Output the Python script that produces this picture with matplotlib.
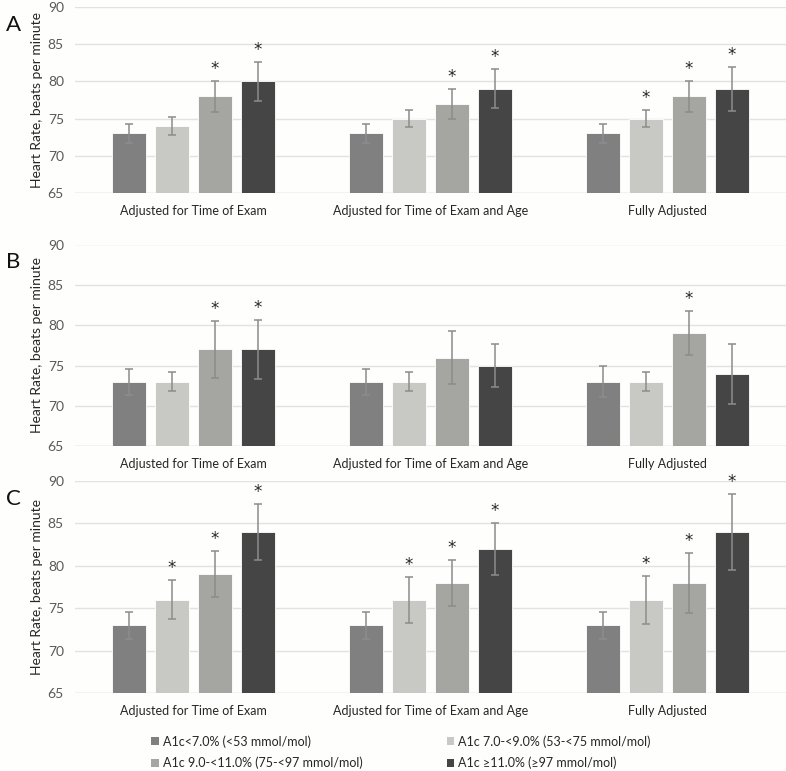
import numpy as np
import matplotlib.pyplot as plt
from matplotlib.patches import Patch

plt.rcParams['font.family'] = ['Lato', 'DejaVu Sans']

# categories and series
groups = ['Adjusted for Time of Exam', 'Adjusted for Time of Exam and Age', 'Fully Adjusted']
series = ['A1c<7.0% (<53 mmol/mol)', 'A1c 7.0-<9.0% (53-<75 mmol/mol)',
          'A1c 9.0-<11.0% (75-<97 mmol/mol)', 'A1c \u226511.0% (\u226597 mmol/mol)']
colors = ['#808080', '#c8c9c4', '#a5a6a1', '#454545']

# heart rate per panel: rows = series, cols = groups
hr_A = [[73, 73, 73], [74, 75, 75], [78, 77, 78], [80, 79, 79]]
err_A = [[1.3, 1.3, 1.3], [1.2, 1.1, 1.1], [2.1, 2.0, 2.1], [2.6, 2.6, 3.0]]
sig_A = [[0, 0, 0], [0, 0, 1], [1, 1, 1], [1, 1, 1]]

hr_B = [[73, 73, 73], [73, 73, 73], [77, 76, 79], [77, 75, 74]]
err_B = [[1.6, 1.6, 1.9], [1.2, 1.2, 1.2], [3.5, 3.3, 2.7], [3.7, 2.7, 3.7]]
sig_B = [[0, 0, 0], [0, 0, 0], [1, 0, 1], [1, 0, 0]]

hr_C = [[73, 73, 73], [76, 76, 76], [79, 78, 78], [84, 82, 84]]
err_C = [[1.6, 1.6, 1.6], [2.3, 2.7, 2.8], [2.7, 2.7, 3.5], [3.3, 3.1, 4.5]]
sig_C = [[0, 0, 0], [1, 1, 1], [1, 1, 1], [1, 1, 1]]

panels = [('A', hr_A, err_A, sig_A), ('B', hr_B, err_B, sig_B), ('C', hr_C, err_C, sig_C)]

W, H = 786, 771
fig = plt.figure(figsize=(W / 100, H / 100), dpi=100)
fig.patch.set_facecolor('#fefefc')

# axes boxes in pixels (top, bottom)
boxes = [(7, 193), (244.5, 446.3), (481, 693.3)]
left, right = 75, 786

x = np.arange(len(groups))
bw = 0.1406
offsets = np.array([-1.5, -0.5, 0.5, 1.5]) * 0.181
tick_col = '#595959'
txt_col = '#262626'

for (letter, hr, err, sig), (top, bot) in zip(panels, boxes):
    ax = fig.add_axes([left / W, (H - bot) / H, (right - left) / W, (bot - top) / H])
    ax.set_facecolor('#fefefc')
    for i in range(4):
        ax.bar(x + offsets[i], hr[i], width=bw, bottom=0, color=colors[i],
               edgecolor='white', linewidth=0.6, zorder=2)
        ax.errorbar(x + offsets[i], hr[i], yerr=err[i], fmt='none', ecolor='#8c8c8c',
                    elinewidth=1.1, capsize=3, capthick=1.1, zorder=3)
        for j in range(len(groups)):
            if sig[i][j]:
                ax.annotate('*', (x[j] + offsets[i], hr[i][j] + err[i][j]),
                            xytext=(0, 12), textcoords='offset pixels',
                            ha='center', va='center', fontsize=12, color=txt_col,
                            family='DejaVu Sans')
    ax.set_ylim(65, 90)
    ax.set_xlim(-0.5, 2.5)
    ax.set_yticks([65, 70, 75, 80, 85, 90])
    ax.set_xticks(x)
    ax.set_xticklabels(groups)
    ax.tick_params(length=0, labelsize=10, colors=tick_col, pad=8)
    ax.tick_params(axis='x', labelcolor=txt_col, labelsize=9, pad=8.5)
    ax.grid(axis='y', color='#e2e2e2', linewidth=1, zorder=0)
    for s in ax.spines.values():
        s.set_visible(False)
    ax.axhline(65, color='#d9d9d9', linewidth=1, zorder=1)
    ax.set_ylabel('Heart Rate, beats per minute', fontsize=10, color=txt_col, labelpad=3)
    fig.text(6 / W, (H - top - 18) / H, letter, fontsize=16, color='#111111',
             ha='left', va='center')

handles = [Patch(facecolor=c, edgecolor='none') for c in colors]
order = [0, 2, 1, 3]
fig.legend([handles[k] for k in order], [series[k] for k in order], ncol=2,
           loc='upper left', bbox_to_anchor=(145 / W, (H - 729) / H), frameon=False,
           fontsize=9, handlelength=0.6, handleheight=0.6, handletextpad=0.35,
           columnspacing=6.7, labelspacing=0.7, borderpad=0, labelcolor=txt_col)

fig.savefig('out.png', dpi=100, facecolor=fig.get_facecolor())
